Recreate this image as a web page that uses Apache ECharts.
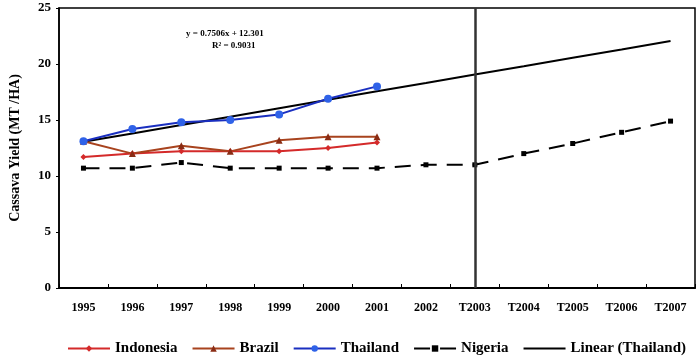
<!DOCTYPE html>
<html><head><meta charset="utf-8">
<script src="https://cdn.jsdelivr.net/npm/echarts@6/dist/echarts.min.js"></script>
<style>html,body{margin:0;padding:0;background:#fff}#c{width:700px;height:357px}</style>
</head><body><div id="c"></div>
<script>
const categories = ['1995','1996','1997','1998','1999','2000','2001','2002','T2003','T2004','T2005','T2006','T2007'];
const indonesia = [11.7, 12.0, 12.2, 12.2, 12.2, 12.5, 13.0, null, null, null, null, null, null];
const brazil    = [13.1, 12.0, 12.7, 12.2, 13.2, 13.5, 13.5, null, null, null, null, null, null];
const thailand  = [13.1, 14.2, 14.8, 15.0, 15.5, 16.9, 18.0, null, null, null, null, null, null];
const nigeria   = [10.7, 10.7, 11.2, 10.7, 10.7, 10.7, 10.7, 11.0, 11.0, 12.0, 12.9, 13.9, 14.9];
const linearThailand = [13.05, 13.8, 14.55, 15.3, 16.05, 16.8, 17.56, 18.3, 19.06, 19.8, 20.56, 21.3, 22.06];
const yTicks = [0, 5, 10, 15, 20, 25];
const equationText = 'y = 0.7506x + 12.301';
const r2Text = 'R² = 0.9031';

const font = 'Liberation Serif';
const chart = echarts.init(document.getElementById('c'));
chart.setOption({
  animation: false,
  backgroundColor: '#fff',
  textStyle: { fontFamily: font },
  grid: { left: 58, right: 5, top: 8, bottom: 69, show: true, borderColor: '#000', borderWidth: 1.5 },
  xAxis: {
    type: 'category', data: categories, boundaryGap: true,
    axisLine: { lineStyle: { color: '#000', width: 2 } },
    axisTick: { show: true, inside: true, length: 4, lineStyle: { color: '#000' } },
    axisLabel: { color: '#000', fontFamily: font, fontWeight: 'bold', fontSize: 12, margin: 14 }
  },
  yAxis: {
    type: 'value', min: yTicks[0], max: yTicks[yTicks.length - 1], interval: 5,
    name: 'Cassava Yield (MT /HA)', nameLocation: 'middle', nameGap: 37,
    nameTextStyle: { color: '#000', fontFamily: font, fontWeight: 'bold', fontSize: 14 },
    splitLine: { show: false },
    axisLine: { show: true, lineStyle: { color: '#000', width: 1.5 } },
    axisTick: { show: true, length: 3, lineStyle: { color: '#000' } },
    axisLabel: { color: '#000', fontFamily: font, fontWeight: 'bold', fontSize: 13, margin: 8 }
  },
  legend: {
    top: 336, left: 62, itemWidth: 42, itemHeight: 8, itemGap: 14,
    textStyle: { color: '#000', fontFamily: font, fontWeight: 'bold', fontSize: 15 },
    data: ['Indonesia', 'Brazil', 'Thailand', 'Nigeria',
      { name: 'Linear (Thailand)', itemStyle: { opacity: 0 } }]
  },
  graphic: [
    { type: 'text', left: 186, top: 29, style: { text: equationText, fontFamily: font, fontWeight: 'bold', fontSize: 9, fill: '#000' } },
    { type: 'text', left: 212, top: 41, style: { text: r2Text, fontFamily: font, fontWeight: 'bold', fontSize: 9, fill: '#000' } }
  ],
  series: [
    { name: 'Nigeria', type: 'line', data: nigeria, symbol: 'rect', symbolSize: 5,
      itemStyle: { color: '#000' }, lineStyle: { color: '#000', width: 2, type: [16, 10] }, z: 2,
      markLine: { silent: true, symbol: 'none', label: { show: false },
        lineStyle: { color: '#333', width: 2.5, type: 'solid' }, data: [{ xAxis: 'T2003' }] } },
    { name: 'Linear (Thailand)', type: 'line', data: linearThailand, symbol: 'none', showSymbol: false,
      itemStyle: { color: '#000' }, lineStyle: { color: '#000', width: 2 }, z: 3 },
    { name: 'Indonesia', type: 'line', data: indonesia, symbol: 'diamond', symbolSize: 6,
      itemStyle: { color: '#d42a2a' }, lineStyle: { color: '#d42a2a', width: 2 }, z: 4 },
    { name: 'Brazil', type: 'line', data: brazil, symbol: 'triangle', symbolSize: 7,
      itemStyle: { color: '#8a2c14' }, lineStyle: { color: '#a8431e', width: 2 }, z: 4 },
    { name: 'Thailand', type: 'line', data: thailand, symbol: 'circle', symbolSize: 8,
      itemStyle: { color: '#2f62e8' }, lineStyle: { color: '#1a2fc0', width: 2 }, z: 5 }
  ]
});
</script></body></html>
